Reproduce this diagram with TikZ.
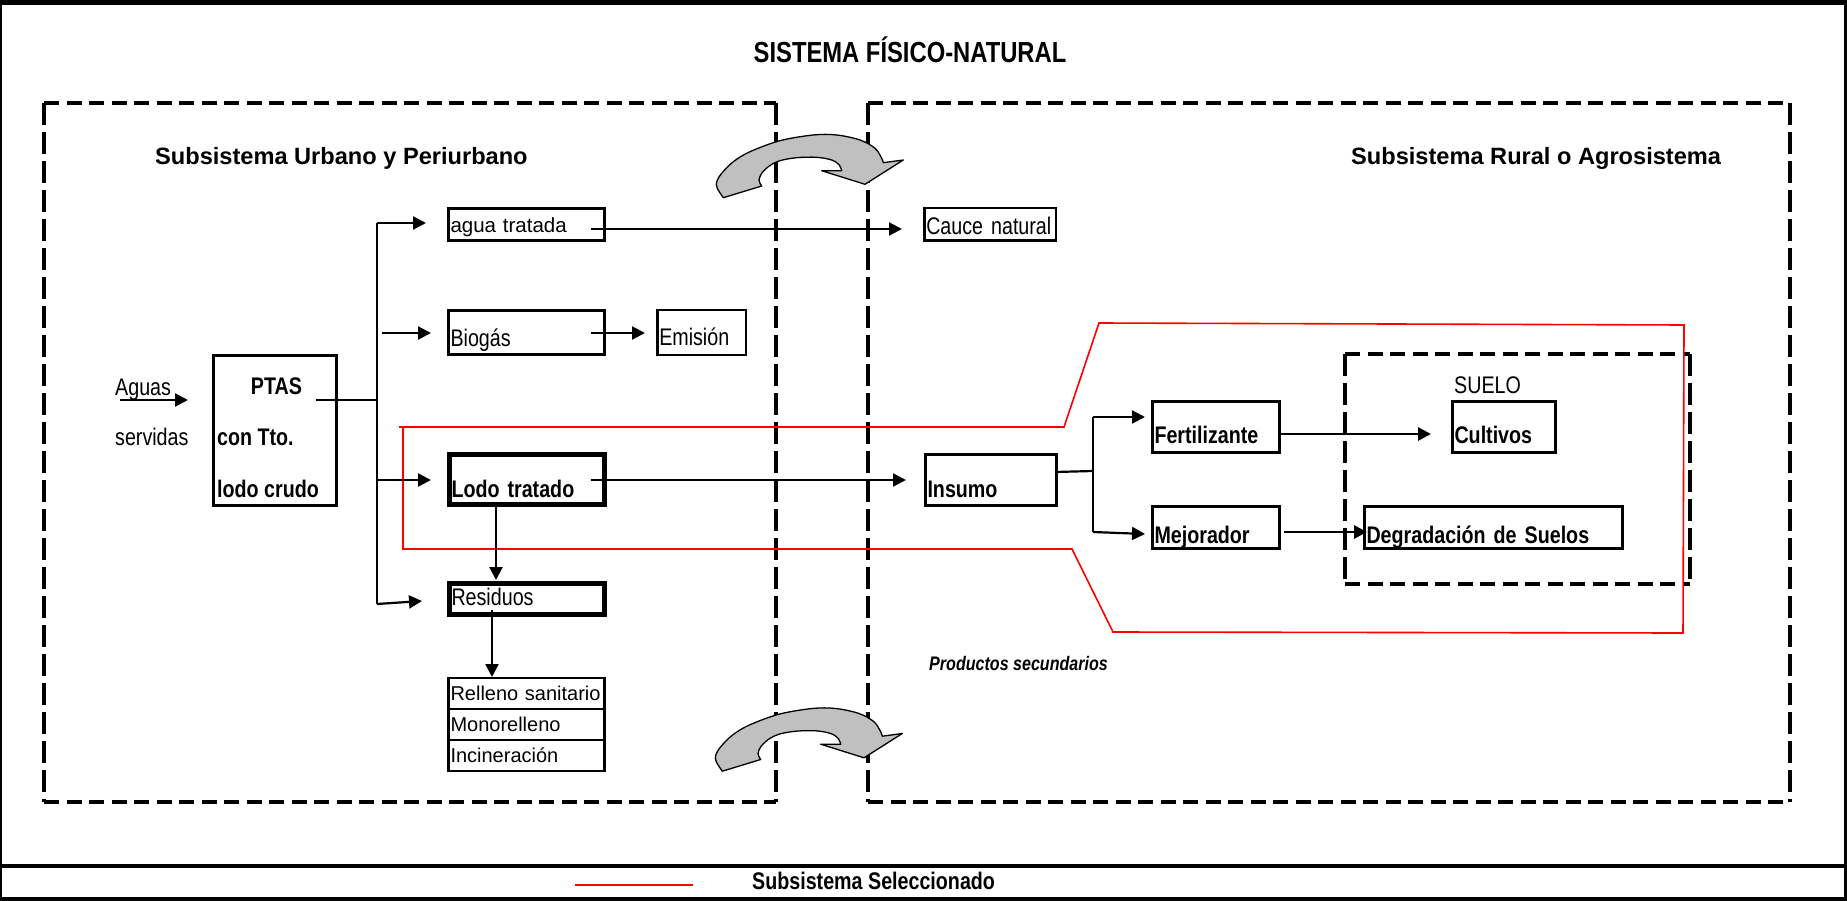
\documentclass[tikz,border=0pt]{standalone}
\usepackage{fontspec}
\setmainfont{Liberation Sans}
\newfontfamily\nar{Liberation Sans}[FakeStretch=0.82]
\usetikzlibrary{arrows.meta}
\definecolor{agray}{HTML}{C0C0C0}
\begin{document}
\begin{tikzpicture}[x=1pt,y=-1pt,
  bx/.style={draw, line width=3pt, rectangle, inner xsep=2pt, inner ysep=0pt, align=left, text depth=0pt, font=\nar\fontsize{24}{28}\selectfont},
  bxb/.style={bx, font=\nar\bfseries\fontsize{24}{28}\selectfont},
  bxr/.style={bx, line width=2.5pt, font=\fontsize{20}{24}\selectfont},
  txt/.style={inner sep=0pt, font=\nar\fontsize{24}{28}\selectfont},
  txtb/.style={inner sep=0pt, font=\nar\bfseries\fontsize{24}{28}\selectfont},
  conn/.style={line width=2.2pt},
  arr/.style={conn, -{Triangle[length=13pt,width=13pt]}},
  hdash/.style={line width=4pt, dash pattern=on 15pt off 7.5pt},
  vdash/.style={line width=4pt, dash pattern=on 22pt off 7pt},
  sel/.style={red, line width=1.6pt, line join=miter},
  turn/.pic={
    \filldraw[fill=agray, draw=black, line width=1.3pt, line join=round]
      plot[smooth, tension=0.55] coordinates {(723.3,197.7) (717.3,188.3) (716.7,181.7) (721.7,173.3) (733.3,161.7) (750,151.7) (780,140.7) (813.3,135) (836.7,135) (860,140) (875,148.3) (881.7,158.3) (883.3,162.7)}
      -- (903.3,160) -- (865,184.3) -- (821.7,170.7)
      -- plot[smooth, tension=0.55] coordinates {(841.7,170.7) (839.3,165) (831.7,160) (816.7,157.3) (796.7,157.7) (780,160.7) (769.3,166) (761.7,173.3) (759,180) (760,183.3) (761.7,186)}
      -- cycle;
  }
]
\useasboundingbox (0,0) rectangle (1847,901);

% outer frame
\draw[line width=5pt] (0,2.5) -- (1847,2.5);
\draw[line width=2pt] (1,0) -- (1,901);
\draw[line width=2.5pt] (1845.5,0) -- (1845.5,901);
\draw[line width=4.5pt] (0,866) -- (1847,866);
\draw[line width=4pt] (0,899) -- (1847,899);

% title
\node[inner sep=0pt, anchor=base, font=\nar\bfseries\fontsize{29}{34}\selectfont] (title) at (910,63) {SISTEMA FÍSICO-NATURAL};

% subsystem dashed boxes
\draw[hdash] (44,103) -- (776,103);
\draw[hdash] (44,802) -- (776,802);
\draw[vdash] (44,103) -- (44,802);
\draw[vdash] (776,103) -- (776,802);
\draw[hdash] (868,103) -- (1790,103);
\draw[hdash] (868,802) -- (1790,802);
\draw[vdash] (868,103) -- (868,802);
\draw[vdash] (1790,103) -- (1790,802);

\node[inner sep=0pt, anchor=base west, font=\bfseries\fontsize{23.6}{28}\selectfont] (urb) at (155,165) {Subsistema Urbano y Periurbano};
\node[inner sep=0pt, anchor=base west, font=\bfseries\fontsize{23.6}{28}\selectfont] (rur) at (1351,165) {Subsistema Rural o Agrosistema};

% curved arrows
\pic at (0,0) {turn};
\pic at (-1,573.5) {turn};

% SUELO dashed box
\draw[hdash] (1345,354) -- (1690,354);
\draw[hdash] (1345,584) -- (1690,584);
\draw[vdash] (1345,354) -- (1345,584);
\draw[vdash] (1690,354) -- (1690,584);
\node[txt, anchor=base west] (suelo) at (1454,393) {SUELO};

% selected subsystem outline
\draw[sel] (399,427) -- (1064,427) -- (1099,323) -- (1684,325) -- (1683,633) -- (1113,632) -- (1072,549) -- (403,549) -- (403,427);

% left side nodes
\node[txt, anchor=base west] (aguas) at (115,395) {Aguas};
\node[txt, anchor=base west] (servidas) at (115,445) {servidas};
\node[draw, line width=3pt, rectangle, minimum width=123pt, minimum height=150pt, inner sep=0pt] (ptas) at (275,430.5) {};
\node[txtb, anchor=base] (ptas1) at (276.5,394) {PTAS};
\node[txtb, anchor=base west] (ptas2) at (217,445) {con Tto.};
\node[txtb, anchor=base west] (ptas3) at (217,497) {lodo crudo};

\node[bx, font=\fontsize{20.5}{24}\selectfont, text width=152pt, minimum height=32pt, text height=17pt] (agua) at (526.5,224.5) {\mbox{agua tratada}};
\node[bx, text width=152pt, minimum height=44pt, text height=27pt] (biogas) at (526.5,332.5) {Biogás};
\node[bx, line width=2.5pt, text width=84.5pt, minimum height=44.5pt, text height=25pt] (emision) at (701.5,332.5) {Emisión};
\node[bxb, line width=5pt, text width=151pt, minimum height=50pt, text height=35pt] (lodo) at (527,479.5) {Lodo tratado};
\node[bx, line width=5pt, text width=151pt, minimum height=31pt, text height=12pt] (resid) at (527,599) {Residuos};
\node[bxr, text width=152pt, minimum height=31pt, text height=13pt] (rell) at (526.5,693.5) {\mbox{Relleno sanitario}};
\node[bxr, text width=152pt, minimum height=31pt, text height=13pt] (mono) at (526.5,724.5) {Monorelleno};
\node[bxr, text width=152pt, minimum height=31pt, text height=13pt] (incin) at (526.5,755.5) {Incineración};

% right side nodes
\node[bx, line width=2.5pt, text width=127.5pt, minimum height=32.5pt, text height=21pt] (cauce) at (990,224.5) {\mbox{Cauce natural}};
\node[bxb, text width=127pt, minimum height=51pt, text height=34pt] (insumo) at (991,480) {Insumo};
\node[bxb, text width=123pt, minimum height=51pt, text height=32pt] (fert) at (1216,427) {Fertilizante};
\node[bxb, text width=99pt, minimum height=51pt, text height=32pt] (cult) at (1504,427) {Cultivos};
\node[bxb, text width=123pt, minimum height=42pt, text height=31pt] (mej) at (1216,527.5) {Mejorador};
\node[bxb, text width=254pt, minimum height=42pt, text height=31pt] (degr) at (1493.5,527.5) {Degradación de Suelos};

\node[inner sep=0pt, anchor=base west, font=\nar\bfseries\itshape\fontsize{19.6}{23}\selectfont] (prod) at (929,670) {Productos secundarios};

% connector coordinates
\coordinate (aguasA) at (120,400);
\coordinate (aguasB) at (188,400);
\coordinate (ptasOut) at (316,400);
\coordinate (trunkMid) at (377,400);
\coordinate (trunkTop) at (377,223);
\coordinate (trunkBot) at (377,604);
\coordinate (aguaIn) at (426,223);
\coordinate (bioA) at (382,333);
\coordinate (bioIn) at (431,333);
\coordinate (lodoIn0) at (377,480);
\coordinate (lodoIn) at (431,480);
\coordinate (residIn) at (422,601);
\coordinate (aguaOut) at (591,229);
\coordinate (cauceIn) at (902,229);
\coordinate (bioOut) at (591,333);
\coordinate (emiIn) at (645,333);
\coordinate (lodoOut) at (591,480);
\coordinate (insIn) at (906,480);
\coordinate (lodoDown) at (496,507);
\coordinate (residTop) at (496,580);
\coordinate (residDown) at (492,610);
\coordinate (rellTop) at (492,677);
\coordinate (insOut) at (1055,472);
\coordinate (brMid) at (1093,471);
\coordinate (brTop) at (1093,417);
\coordinate (brBot) at (1093,532);
\coordinate (fertIn) at (1145,417);
\coordinate (mejIn) at (1145,534);
\coordinate (fertOut) at (1281,434);
\coordinate (cultIn) at (1431,434);
\coordinate (mejOut) at (1284,532);
\coordinate (degrIn) at (1367,532);

% connectors
\draw[arr] (aguasA) -- (aguasB);
\draw[conn] (ptasOut) -- (trunkMid);
\draw[conn] (trunkTop) -- (trunkBot);
\draw[arr] (trunkTop) -- (aguaIn);
\draw[arr] (bioA) -- (bioIn);
\draw[arr] (lodoIn0) -- (lodoIn);
\draw[arr] (trunkBot) -- (residIn);
\draw[arr] (aguaOut) -- (cauceIn);
\draw[arr] (bioOut) -- (emiIn);
\draw[arr] (lodoOut) -- (insIn);
\draw[arr] (lodoDown) -- (residTop);
\draw[arr] (residDown) -- (rellTop);
\draw[conn] (insOut) -- (brMid);
\draw[conn] (brTop) -- (brBot);
\draw[arr] (brTop) -- (fertIn);
\draw[arr] (brBot) -- (mejIn);
\draw[arr, line width=2.8pt] (fertOut) -- (cultIn);
\draw[arr, line width=2.8pt] (mejOut) -- (degrIn);

% legend
\coordinate (legA) at (575,885);
\coordinate (legB) at (693,885);
\draw[red, line width=2pt] (legA) -- (legB);
\node[txtb, anchor=base west] (legend) at (752,889) {Subsistema Seleccionado};
\end{tikzpicture}
\end{document}
